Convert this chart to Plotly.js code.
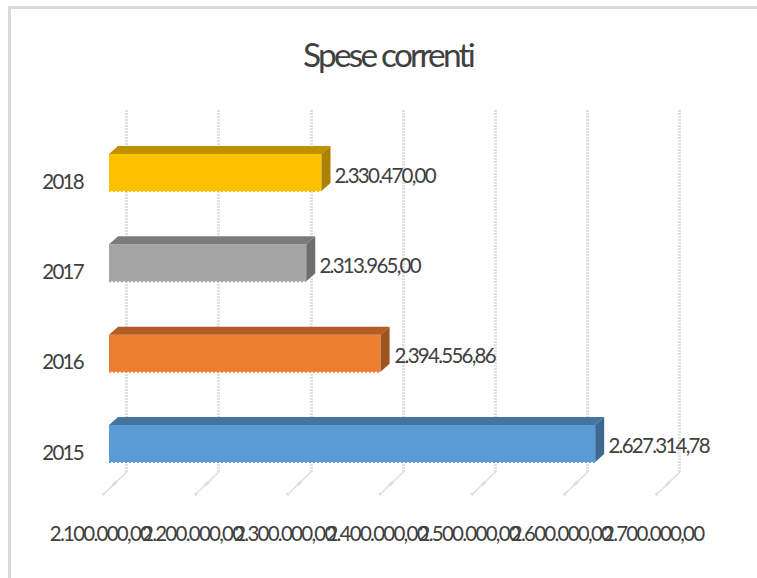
<!DOCTYPE html>
<html><head><meta charset="utf-8">
<script src="https://cdn.plot.ly/plotly-3.0.1.min.js"></script>
<style>
html,body{margin:0;padding:0;background:#fff}
#c text{letter-spacing:-0.085em}
#c .ytick text{letter-spacing:-0.13em}
</style></head><body><div id="c" style="width:757px;height:578px"></div>
<script>
const years=['2015','2016','2017','2018'];
const spese=[2627314.78,2394556.86,2313965.00,2330470.00];
const frontColors=['#5b9bd5','#ed7d31','#a5a5a5','#ffc000'];
const topColors=['#44749f','#b25d25','#7c7c7c','#bf9000'];
const sideColors=['#3d688f','#9e5321','#6f6f6f','#ab8100'];
const axisTicks=[2100000,2200000,2300000,2400000,2500000,2600000,2700000];
const W=757,H=578;
const xd=(a,b)=>[a/W,b/W];
const yd=(top,bottom)=>[1-bottom/H,1-top/H];
const fmt=v=>{const p=v.toFixed(2).split('.');return p[0].replace(/\B(?=(\d{3})+$)/g,'.')+','+p[1]};
const xr=[2100000,2700000];
const wallRange=[2070000,2705000];
const yr=[-0.5,3.5];
const dx=9*600000/553.2, dy=8/90.3, half=0.205;
const traces=[];
// wall subplot (gridlines only)
traces.push({type:'scatter',x:axisTicks,y:axisTicks.map(()=>0),xaxis:'x',yaxis:'y',mode:'none',hoverinfo:'skip',showlegend:false});
// front faces
traces.push({type:'bar',orientation:'h',y:years.map((_,i)=>i),x:spese,width:half*2,xaxis:'x2',yaxis:'y2',
  marker:{color:frontColors,line:{width:0}},hoverinfo:'skip',showlegend:false});
spese.forEach((v,i)=>{
  const T=i+half,B=i-half,L=xr[0];
  traces.push({type:'scatter',mode:'lines',xaxis:'x2',yaxis:'y2',fill:'toself',fillcolor:topColors[i],line:{width:0,color:topColors[i]},
    x:[L,L+dx,v+dx,v,L],y:[T,T+dy,T+dy,T,T],hoverinfo:'skip',showlegend:false});
  traces.push({type:'scatter',mode:'lines',xaxis:'x2',yaxis:'y2',fill:'toself',fillcolor:sideColors[i],line:{width:0,color:sideColors[i]},
    x:[v,v+dx,v+dx,v,v],y:[T,T+dy,B+dy,B,T],hoverinfo:'skip',showlegend:false});
  traces.push({type:'scatter',mode:'lines',xaxis:'x2',yaxis:'y2',line:{width:2,color:frontColors[i],dash:'2px,2px'},
    x:[L,v],y:[B,B],hoverinfo:'skip',showlegend:false});
});
// label subplot
traces.push({type:'scatter',x:axisTicks,y:[0,1,2,3,0,1,2],xaxis:'x3',yaxis:'y3',mode:'none',hoverinfo:'skip',showlegend:false});
const shapes=[
 {type:'line',xref:'paper',yref:'paper',x0:8/W,x1:1,y0:1-7.5/H,y1:1-7.5/H,line:{color:'#d9d9d9',width:3}},
 {type:'line',xref:'paper',yref:'paper',x0:9.5/W,x1:9.5/W,y0:0,y1:1-6/H,line:{color:'#d9d9d9',width:3}}
];
axisTicks.forEach(t=>{
  shapes.push({type:'path',xref:'x',xsizemode:'pixel',xanchor:t,yref:'paper',ysizemode:'pixel',yanchor:1-472/H,
    path:'M0,0 L-24,-23',line:{color:'#dedede',width:1.5},layer:'below'});
  shapes.push({type:'path',xref:'x',xsizemode:'pixel',xanchor:t,yref:'paper',ysizemode:'pixel',yanchor:1-472/H,
    path:'M-24,-23 L-22.5,-21.5 M-14,-13.5 L-10,-9.5',line:{color:'#dedede',width:3},layer:'below'});
});
const annotations=spese.map((v,i)=>({xref:'x2',yref:'y2',x:v,y:i,xanchor:'left',yanchor:'middle',showarrow:false,xshift:1,yshift:-2,
  text:fmt(v),font:{family:'Lato',size:20.5,color:'#404040'}}));
const hidden={showgrid:false,zeroline:false,showticklabels:false,ticks:'',showline:false};
const layout={width:W,height:H,margin:{l:0,r:0,t:0,b:0,autoexpand:false},paper_bgcolor:'#fff',plot_bgcolor:'rgba(0,0,0,0)',showlegend:false,
 title:{text:'Spese correnti',x:388/W,xanchor:'center',xref:'paper',y:1-55/H,yanchor:'middle',font:{family:'Lato',size:33.5,color:'#404040'}},
 xaxis:{domain:xd(99.04,684.5),range:wallRange,tickvals:axisTicks,tickmode:'array',showgrid:true,gridcolor:'#e0e0e0',gridwidth:3,griddash:'2px,1px',zeroline:false,showticklabels:false,ticks:'',showline:false,anchor:'y'},
 yaxis:{domain:yd(110,472),range:yr,...hidden,anchor:'x'},
 xaxis2:{domain:xd(109,662.2),range:xr,...hidden,anchor:'y2'},
 yaxis2:{domain:yd(127.4,488.6),range:yr,...hidden,anchor:'x2'},
 xaxis3:{domain:xd(100,653.2),range:xr,tickvals:axisTicks,ticktext:axisTicks.map(fmt),tickmode:'array',showgrid:false,zeroline:false,showline:false,
   ticks:'outside',ticklen:18,tickcolor:'rgba(0,0,0,0)',tickangle:0,tickfont:{family:'Lato',size:20.5,color:'#404040'},anchor:'y3'},
 yaxis3:{domain:yd(136.4,497.6),range:yr,tickmode:'array',tickvals:[0,1,2,3],ticktext:years,showgrid:false,zeroline:false,showline:false,
   ticks:'outside',ticklen:12,tickcolor:'rgba(0,0,0,0)',tickfont:{family:'Lato',size:20.5,color:'#404040'},anchor:'x3'},
 shapes,annotations};
Plotly.newPlot('c',traces,layout,{displayModeBar:false,staticPlot:true});
</script></body></html>
